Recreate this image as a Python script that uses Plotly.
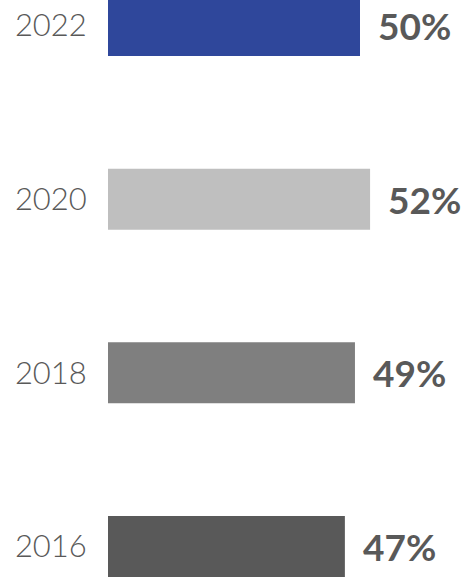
import plotly.graph_objects as go

# Share by survey year
years = ["2016", "2018", "2020", "2022"]
shares = [47, 49, 52, 50]
bar_colors = ["#595959", "#7F7F7F", "#BFBFBF", "#2F479B"]
value_labels = [f"{v}%" for v in shares]

text_color = "#595959"

fig = go.Figure(
    go.Bar(
        x=shares,
        y=years,
        orientation="h",
        width=0.351,
        marker=dict(color=bar_colors, line=dict(width=0)),
        hoverinfo="skip",
    )
)

# value labels placed just past each bar end (category index on the y axis)
for idx, (v, lbl) in enumerate(zip(shares, value_labels)):
    fig.add_annotation(
        x=v, y=idx, text=f"<b>{lbl}</b>",
        xref="x", yref="y",
        xanchor="left", yanchor="middle",
        xshift=16, yshift=0,
        showarrow=False,
        font=dict(family="Lato, Open Sans, sans-serif", size=37, color=text_color),
    )

fig.update_layout(
    width=465, height=581,
    margin=dict(l=108, r=5, t=0, b=0),
    paper_bgcolor="white",
    plot_bgcolor="white",
    showlegend=False,
    xaxis=dict(range=[0, 69.84], visible=False, fixedrange=True),
    yaxis=dict(
        type="category",
        range=[-0.199, 3.147],
        showgrid=False, zeroline=False, showline=False,
        ticks="outside", ticklen=14, tickcolor="rgba(0,0,0,0)",
        tickfont=dict(family="Lato, Open Sans, sans-serif", size=31,
                      color=text_color, weight=300),
        fixedrange=True,
    ),
)

fig.write_html("out.html", config={"displayModeBar": False})
